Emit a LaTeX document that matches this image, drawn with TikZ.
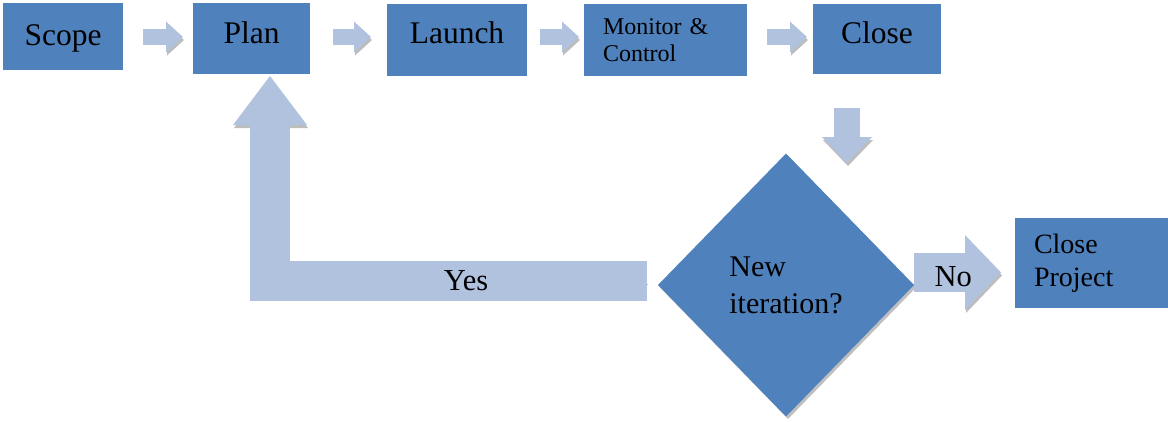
\documentclass[tikz,border=0pt]{standalone}
\usepackage{fontspec}
\setmainfont{Liberation Serif}
\usetikzlibrary{positioning,arrows.meta,shapes.geometric,shadows,calc}
\definecolor{stepblue}{HTML}{4F81BD}
\definecolor{flowblue}{HTML}{B1C2DE}
\definecolor{flowshade}{HTML}{BDBDBD}

\begin{document}
\begin{tikzpicture}[x=1pt, y=-1pt,
  every node/.style={outer sep=0pt},
  stepbox/.style={fill=stepblue, inner sep=0pt, font=\fontsize{31.5}{36}\selectfont},
  notebox/.style={fill=stepblue, inner ysep=0pt, align=left},
  decision/.style={
    diamond, fill=stepblue, inner sep=0pt, align=left,
    minimum width=256pt, minimum height=263pt,
    font=\fontsize{30}{37}\selectfont,
    drop shadow={shadow xshift=2pt, shadow yshift=-2.5pt, fill=black, opacity=.25},
  },
  flow/.style n args={3}{
    draw=flowblue, line width=#1,
    -{Triangle[width=#2, length=#3, line width=0pt]},
    preaction={draw=flowshade, transform canvas={shift={(1pt,-3pt)}}},
  },
  stepflow/.style={flow={16pt}{31pt}{17pt}},
  flowlabel/.style={inner sep=0pt, font=\fontsize{30.5}{36}\selectfont},
]
  \useasboundingbox (0,0) rectangle (1168,421);
  \coordinate (row) at (0,37);

  % process steps along the top
  \node[stepbox, minimum width=120pt, text height=42pt, text depth=25pt] (scope)  at (63,36.5)  {Scope};
  \node[stepbox, minimum width=117pt, text height=40pt, text depth=31pt] (plan)   at (251.5,38.5) {Plan};
  \node[stepbox, minimum width=140pt, text height=39pt, text depth=33pt] (launch) at (457,40)   {Launch};
  \node[notebox, minimum height=72pt, text width=125pt, inner xsep=19pt,
        font=\fontsize{24}{26.5}\selectfont] (monitor) at (665.5,40) {Monitor \&\\Control};
  \node[stepbox, minimum width=128pt, text height=39pt, text depth=31pt] (close)  at (877,39)   {Close};

  % decision and final step
  \node[decision] (iter) at (786,285) {New\\iteration?};
  \node[notebox, minimum height=90pt, text width=122pt, inner xsep=19pt,
        font=\fontsize{28}{33}\selectfont] (closeproj) at (1095,263) {Close\\Project};

  \draw[stepflow, shorten <=20pt, shorten >=10pt] (scope.east |- row)   -- (plan.west |- row);
  \draw[stepflow, shorten <=23pt, shorten >=16pt] (plan.east |- row)    -- (launch.west |- row);
  \draw[stepflow, shorten <=13pt, shorten >=5pt]  (launch.east |- row)  -- (monitor.west |- row);
  \draw[stepflow, shorten <=20pt, shorten >=6pt]  (monitor.east |- row) -- (close.west |- row);

  \draw[flow={26pt}{50pt}{26pt}] ($(close.south)+(-30,34)$) -- ++(0,55);

  % loop back for another iteration
  \draw[flow={40pt}{74pt}{49pt}] ($(iter.west)+(-11,-4)$)
    -| node[flowlabel, pos=0.24, anchor=base, yshift=-9pt] {Yes} ($(plan.south)+(18.5,2)$);
  \draw[flow={39pt}{75pt}{36pt}] ($(iter.east)+(0,-12.5)$)
    -- node[flowlabel, pos=0.45, anchor=base, yshift=-13.5pt] {No} ($(closeproj.west)+(-14,9.5)$);
\end{tikzpicture}
\end{document}
